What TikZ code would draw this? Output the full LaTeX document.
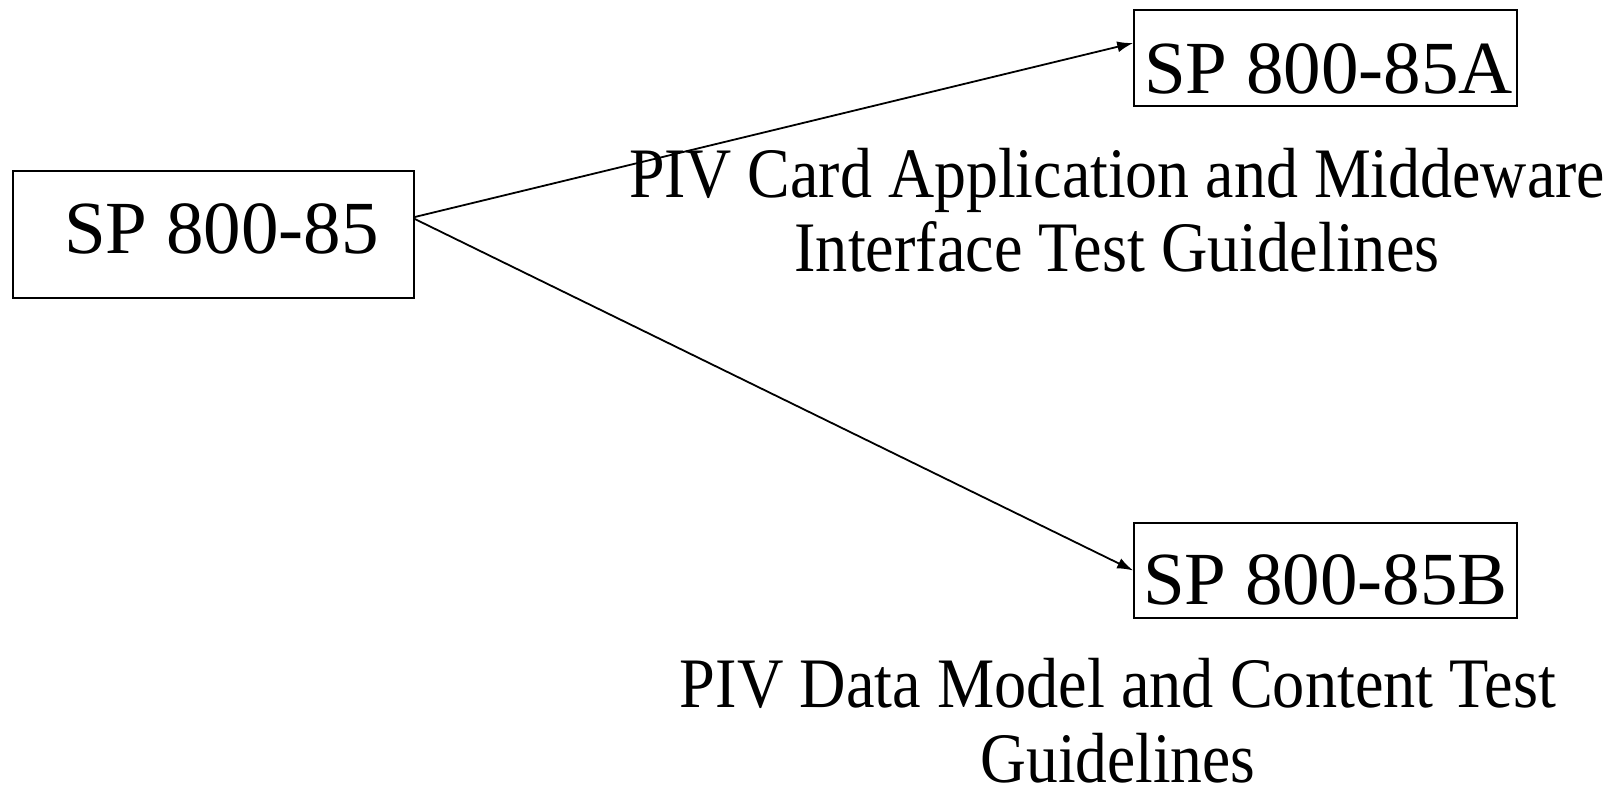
\documentclass[tikz,border=0pt]{standalone}
\usepackage{fontspec}
\setmainfont{Liberation Serif}
\usetikzlibrary{arrows.meta}
\tikzset{
  box/.style={draw=black, line width=1.6pt, rectangle, inner sep=0pt, font=\fontsize{75}{80}\selectfont},
  desc/.style={align=center, inner sep=0pt, font=\fontsize{71}{74}\selectfont},
  link/.style={line width=1.8pt, -{Latex[length=16pt,width=11pt]}}
}
\begin{document}
\begin{tikzpicture}[x=1pt,y=-1pt]
\useasboundingbox (0,0) rectangle (1624,789);
\node[box, minimum width=401pt, text height=82pt, text depth=45pt] (sp) at (213.5,234.5) {\hspace*{16pt}SP 800-85};
\node[box, minimum width=383pt, text height=84pt, text depth=12pt] (a) at (1325.5,58) {\hspace*{6pt}SP 800-85A};
\node[box, minimum width=383pt, text height=81pt, text depth=14pt] (b) at (1325.5,570.5) {SP 800-85B};
\node[desc, anchor=base] (da) at (1117,271) {\resizebox{976pt}{\height}{PIV Card Application and Middeware}\\\resizebox{645pt}{\height}{Interface Test Guidelines}};
\node[desc, anchor=base] (db) at (1118,782) {\resizebox{876pt}{\height}{PIV Data Model and Content Test}\\[1pt]\resizebox{275pt}{\height}{Guidelines}};
\draw[link] ([yshift=17.5pt]sp.east) -- ([yshift=15pt]a.west);
\draw[link] ([yshift=15.5pt]sp.east) -- ([yshift=0pt]b.west);
\end{tikzpicture}
\end{document}
